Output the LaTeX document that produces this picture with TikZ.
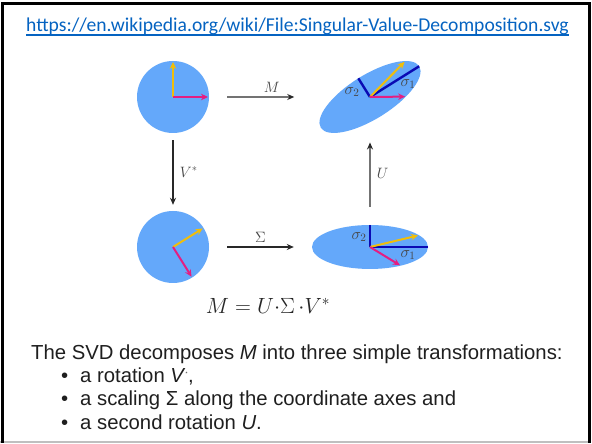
\RequirePackage{fix-cm}
\documentclass[tikz,border=0pt]{standalone}
\usepackage{fontspec}
\newfontfamily\urlfont{Carlito}
\newfontfamily\arialfont{Liberation Sans}
\usetikzlibrary{shapes.geometric,arrows.meta}
\definecolor{disk}{RGB}{100,168,250}
\definecolor{yel}{RGB}{240,190,10}
\definecolor{pnk}{RGB}{228,30,130}
\definecolor{sigblue}{RGB}{10,10,180}
\definecolor{urlblue}{RGB}{5,99,193}
\definecolor{arr}{RGB}{40,40,40}
\definecolor{lab}{RGB}{70,70,70}
\definecolor{framecol}{RGB}{0,0,0}
\tikzset{
  disc/.style={circle, fill=disk, minimum size=72pt, inner sep=0pt},
  ell/.style={ellipse, fill=disk, minimum width=116pt, minimum height=44pt, inner sep=0pt},
  vec/.style={line width=2pt, -{Stealth[length=7pt,width=6.5pt]}},
  sig/.style={line width=2.4pt, sigblue},
  trans/.style={line width=1.3pt, arr, -{Stealth[length=7pt,width=6pt]}},
  tlab/.style={lab, font=\fontsize{15}{17}\selectfont},
  slab/.style={lab, font=\fontsize{16}{18}\selectfont},
  body/.style={anchor=base west, inner sep=0pt, font=\arialfont\fontsize{20.3}{23}\selectfont, text=black!88}
}
\begin{document}
\begin{tikzpicture}[x=1pt,y=1pt]
\useasboundingbox (0,0) rectangle (592,444);
\fill[white] (0,0) rectangle (592,444);

% URL
\node[anchor=base west, inner sep=0pt, text=urlblue, font=\urlfont\fontsize{19.6}{23}\selectfont] (url) at (26,412) {https://en.wikipedia.org/wiki/File:Singular-Value-Decomposition.svg};
\draw[urlblue, line width=1.2pt] ([yshift=-3pt]url.base west) -- ([yshift=-3pt]url.base east);

% shapes
\node[disc] (A) at (173,347) {};
\node[ell, rotate=32] (B) at (370,347) {};
\node[disc] (C) at (173,197) {};
\node[ell] (D) at (370,197) {};

% A vectors
\draw[vec, yel] (A.center) -- ++(0,35);
\draw[vec, pnk] (A.center) -- ++(35,0);

% C vectors
\draw[vec, yel] (C.center) -- ++(32:35);
\draw[vec, pnk] (C.center) -- ++(-58:35);

% D vectors
\begin{scope}[shift={(D.center)}]
  \draw[sig] (0,0) -- (58,0);
  \draw[sig] (0,0) -- (0,22);
  \draw[vec, yel] (0,0) -- (48,11.5);
  \draw[vec, pnk] (0,0) -- (30,-18.3);
\end{scope}
\node[slab] (s2d) at ([shift={(-11,10)}]D.center) {$\sigma_2$};
\node[slab] (s1d) at ([shift={(38,-8)}]D.center) {$\sigma_1$};

% B vectors
\begin{scope}[shift={(B.center)}, rotate=32]
  \draw[sig] (0,0) -- (58,0);
  \draw[sig] (0,0) -- (0,22);
  \draw[vec, yel] (0,0) -- (48,11.5);
  \draw[vec, pnk] (0,0) -- (30,-18.3);
\end{scope}
\node[slab] (s2b) at ([shift={(-18,5)}]B.center) {$\sigma_2$};
\node[slab] (s1b) at ([shift={(38,13)}]B.center) {$\sigma_1$};

% transformation arrows
\draw[trans, shorten <=18pt, shorten >=40pt] (A) -- node[tlab, above=1pt] {$M$} (B);
\draw[trans, shorten <=7pt, shorten >=6pt] (A) -- node[tlab, right=3pt] {$V^*$} (C);
\draw[trans, shorten <=18pt, shorten >=18pt] (C) -- node[tlab, above=1pt] {$\Sigma$} (D);
\draw[trans, shorten <=18pt, shorten >=20pt] (D) -- node[tlab, right=3pt] {$U$} (B);

% equation
\node[font=\fontsize{22}{26}\selectfont, text=black!85] (eq) at (268,138) {$M = U{\cdot}\Sigma\,{\cdot}V^*$};

% body text
\node[body] (t1) at (31,84) {The SVD decomposes \textit{M} into three simple transformations:};
\node[body] (b1) at (61,61) {•};
\node[body] (t2) at (80,61) {a rotation \textit{V}\textsuperscript{\tiny *},};
\node[body] (b2) at (61,38) {•};
\node[body] (t3) at (80,38) {a scaling Σ along the coordinate axes and};
\node[body] (b3) at (61,14) {•};
\node[body] (t4) at (80,14) {a second rotation \textit{U}.};

% frame
\fill[black!25] (0,0.5) rectangle (590,2.5);
\fill[framecol] (1,1) rectangle (4,442);
\fill[framecol] (1,439) rectangle (591,442);
\fill[framecol] (588,1) rectangle (591,442);
\end{tikzpicture}
\end{document}
